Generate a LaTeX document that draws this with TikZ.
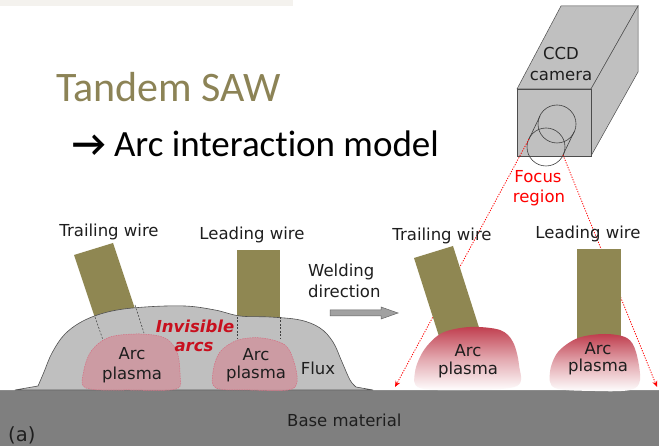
\documentclass[tikz,border=0pt]{standalone}
\usepackage{fontspec}
\setmainfont{Carlito}[Ligatures=NoCommon]
\newfontfamily\labelfont{DejaVu Sans}
\usetikzlibrary{arrows.meta}

\definecolor{titleolive}{RGB}{140,131,86}
\definecolor{wireolive}{RGB}{143,135,82}
\definecolor{fluxgray}{RGB}{191,191,191}
\definecolor{edgegray}{RGB}{80,80,80}
\definecolor{basegray}{RGB}{127,127,127}
\definecolor{camgray}{RGB}{192,192,192}
\definecolor{plasmapink}{RGB}{206,152,160}
\definecolor{plasmaedge}{RGB}{214,110,130}
\definecolor{plasmared}{RGB}{192,62,78}
\definecolor{arcred}{RGB}{200,16,30}
\definecolor{stripcol}{RGB}{244,242,238}
\definecolor{textdark}{RGB}{30,30,30}

\tikzset{
  lbl/.style={font=\labelfont\fontsize{16.5}{20}\selectfont, text=textdark, inner sep=0pt},
  wirebody/.style={fill=wireolive},
  fluxbody/.style={fill=fluxgray, draw=edgegray, line width=0.6pt},
  hidden/.style={draw=black!75, line width=0.5pt, dash pattern=on 2pt off 1.5pt},
  buried/.style={fill=plasmapink, fill opacity=0.9, draw=plasmaedge, line width=0.5pt, dash pattern=on 1.5pt off 1pt},
  open/.style={top color=plasmared, bottom color=white, middle color=plasmared!45!white},
  focusline/.style={draw=red, line width=0.8pt, dash pattern=on 1.2pt off 1.4pt, -{Stealth[length=6pt,width=5pt]}},
  camface/.style={fill=camgray, draw=black!70, line width=0.5pt},
  lens/.style={draw=black!75, line width=0.6pt},
}

\begin{document}
\begin{tikzpicture}[x=1pt,y=-1pt]
\useasboundingbox (0,0) rectangle (659,446);
\fill[white] (0,0) rectangle (659,446);
\fill[stripcol] (0,0) rectangle (293,6);

% titles
\node[anchor=base west, inner sep=0pt, text=titleolive, font=\fontsize{42}{48}\selectfont] (title) at (56,102) {Tandem SAW};
\node[anchor=base west, inner sep=0pt, font=\fontsize{37}{44}\selectfont] (subtitle) at (72,157) {\textbf{→} Arc interaction model};

% base plate
\fill[basegray] (0,390) rectangle (659,446);
\draw[black!45, line width=0.6pt] (0,390) -- (659,390);

% CCD camera
\filldraw[camface] (517,89) -- (561,6) -- (638,6) -- (591,89) -- cycle;
\filldraw[camface] (591,89) -- (638,6) -- (638,72) -- (591,156) -- cycle;
\filldraw[camface] (517,89) rectangle (591,156);
\draw[lens] (557,124) circle (19);
\draw[lens] (546,147) circle (19);
\draw[lens] (540,116) -- (529,139);
\draw[lens] (574,132) -- (563,155);
\coordinate (lensL) at (529,139);
\coordinate (lensR) at (563,155);
\coordinate (spotL) at (395,387);
\coordinate (spotR) at (657,387);
\draw[focusline] (lensL) -- (spotL);
\draw[focusline] (lensR) -- (spotR);
\node[lbl, anchor=base] (ccd) at (561,60) {CCD};
\node[lbl, anchor=base] (cam) at (561,81) {camera};
\node[lbl, anchor=base, text=red] (focus) at (538,183) {Focus};
\node[lbl, anchor=base, text=red] (region) at (539,203) {region};

% wires under flux (left)
\fill[wirebody] (74,255) -- (113,243) -- (143,333) -- (104,345) -- cycle;
\fill[wirebody] (237,250) rectangle (280,330);

% flux heap
\path[fluxbody] (15,390) -- (38,386)
  -- plot[smooth, tension=0.6] coordinates {(38,386) (44,372) (52,353) (65,334) (85,320) (112,311) (145,307) (185,306) (215,310) (240,316) (270,317) (300,320) (320,328) (333,342) (342,362) (350,380) (356,387)}
  -- (373,390) -- cycle;

% wire contours inside the flux
\draw[hidden] (95,317) -- (103,340);
\draw[hidden] (135,305) -- (144,333);
\draw[hidden] (237,317) -- (237,339);
\draw[hidden] (280,317) -- (280,339);

% buried arc plasmas
\path[buried] plot[smooth cycle, tension=0.55] coordinates {(86,388) (84,370) (92,350) (110,337) (140,334) (165,338) (177,352) (180,375) (176,389) (130,390)};
\path[buried] plot[smooth cycle, tension=0.55] coordinates {(216,388) (213,372) (220,352) (238,340) (262,338) (285,345) (294,362) (297,382) (288,390) (250,390)};

% open arc wires
\fill[wirebody] (414,258) -- (453,246) -- (483,340) -- (444,352) -- cycle;
\fill[wirebody] (577,249) rectangle (621,345);

% open arc plasmas
\shade[open] plot[smooth cycle, tension=0.55] coordinates {(420,388) (415,372) (424,350) (442,333) (470,327) (500,330) (513,342) (519,365) (517,386) (470,390)};
\shade[open] plot[smooth cycle, tension=0.55] coordinates {(555,388) (550,372) (558,352) (578,338) (605,334) (627,338) (636,352) (640,380) (630,390) (595,391)};

% welding direction arrow
\filldraw[fill=black!37, draw=black!60, line width=0.5pt]
  (330,310) -- (381,310) -- (381,307) -- (398,313) -- (381,319) -- (381,316) -- (330,316) -- cycle;

% labels
\node[lbl, anchor=base] (trailA) at (109,237) {Trailing wire};
\node[lbl, anchor=base] (leadA) at (252,240) {Leading wire};
\node[lbl, anchor=base] (trailB) at (442,241) {Trailing wire};
\node[lbl, anchor=base] (leadB) at (588,239) {Leading wire};
\node[lbl, anchor=base west] (weld) at (308,277) {Welding};
\node[lbl, anchor=base west] (dir) at (308,298) {direction};
\node[lbl, anchor=base, text=arcred, font=\labelfont\bfseries\itshape\fontsize{16.5}{20}\selectfont] (invis) at (195,333) {Invisible};
\node[lbl, anchor=base, text=arcred, font=\labelfont\bfseries\itshape\fontsize{16.5}{20}\selectfont] (arcs) at (194,352) {arcs};
\node[lbl, anchor=base] (arc1) at (132,360) {Arc};
\node[lbl, anchor=base] (pl1) at (132,380) {plasma};
\node[lbl, anchor=base] (arc2) at (256,361) {Arc};
\node[lbl, anchor=base] (pl2) at (256,379) {plasma};
\node[lbl, anchor=base] (arc3) at (468,357) {Arc};
\node[lbl, anchor=base] (pl3) at (468,375) {plasma};
\node[lbl, anchor=base] (arc4) at (598,355) {Arc};
\node[lbl, anchor=base] (pl4) at (598,372) {plasma};
\node[lbl, anchor=base] (flux) at (318,375) {Flux};
\node[lbl, anchor=base west] (base) at (287,426) {Base material};
\node[lbl, anchor=base west, font=\labelfont\fontsize{19.5}{22}\selectfont] (tag) at (8,441) {(a)};
\end{tikzpicture}
\end{document}
